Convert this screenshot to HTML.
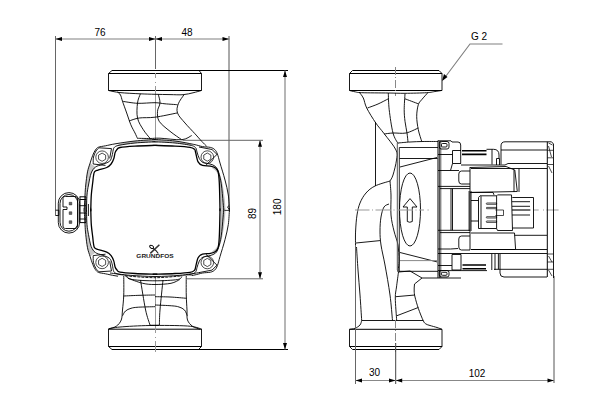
<!DOCTYPE html>
<html><head><meta charset="utf-8">
<style>
html,body{margin:0;padding:0;background:#fff;width:600px;height:400px;overflow:hidden}
svg{display:block}
.k{stroke:#000;stroke-width:1;fill:none}
.t{stroke:#000;stroke-width:0.9;fill:none}
.h{stroke:#000;stroke-width:0.7;fill:none}
.g{stroke:#555;stroke-width:1;fill:none}
.gl{stroke:#888;stroke-width:1;fill:none}
.gd{stroke:#808080;stroke-width:1.15;fill:none}
.a{fill:#000;stroke:none}
.cl{stroke:#888;stroke-width:1;fill:none;stroke-dasharray:8 2 1 2}
text{font-family:"Liberation Sans",sans-serif;font-size:10px;fill:#000}
</style></head><body>
<svg width="600" height="400" viewBox="0 0 600 400">
<g id="dimL">
  <path class="g" style="stroke:#666" d="M55.5 36V215.5M155.5 36V69"/><path class="g" d="M229 36V210"/>
  <path class="gd" d="M55.5 39H229.5"/>
  <path class="a" d="M55.5 39L62 37V41Z M155.5 39L149 37V41Z M155.5 39L162 37V41Z M229 39L222.5 37V41Z"/>
  <text x="100" y="36" text-anchor="middle">76</text>
  <text x="187" y="36" text-anchor="middle">48</text>
  <path class="k" d="M112 70.5H288 M112 349.5H288"/>
  <path class="gd" d="M285 70.5V349.5"/>
  <path class="a" d="M285 70.5L283 77H287Z M285 349.5L283 343H287Z"/>
  <path class="g" style="stroke:#666" d="M182.5 140.3H263 M187 278.8H263"/>
  <path class="gd" d="M260 140.3V278.8"/>
  <path class="a" d="M260 140.3L258 146.8H262Z M260 278.8L258 272.3H262Z"/>
  <text transform="translate(256.2 213.5) rotate(-90)" text-anchor="middle">89</text>
  <text transform="translate(281 206.9) rotate(-90)" text-anchor="middle">180</text>
</g>
<g id="leftview">
  <path class="k" d="M108.5 73.5H201.5 M108.5 90.5H201.5"/>
  <path class="t" d="M112 70.5L108.5 73.5V90.5 M199 70.5L201.5 73.5V90.5"/>
  <path class="g" d="M155.5 73V78 M155.5 82V83 M155.5 86V140" style="stroke:#999"/>
<path class="t" d="M108.50 90.50C110.42 90.85 114.75 92.05 120.00 92.60C125.25 93.15 134.17 93.52 140.00 93.80C145.83 94.08 150.00 94.17 155.00 94.30C160.00 94.43 165.33 94.53 170.00 94.60C174.67 94.67 179.17 95.00 183.00 94.70C186.83 94.40 189.92 93.50 193.00 92.80C196.08 92.10 200.08 90.88 201.50 90.50"/><path class="t" d="M117.50 92.00C118.00 92.50 119.67 93.45 120.50 95.00C121.33 96.55 121.47 98.30 122.50 101.30C123.53 104.30 125.32 109.10 126.70 113.00C128.08 116.90 129.42 121.37 130.80 124.70C132.18 128.03 133.88 130.70 135.00 133.00C136.12 135.30 137.08 137.58 137.50 138.50"/><path class="t" d="M122.50 101.30C125.00 101.63 132.08 103.07 137.50 103.30C142.92 103.53 150.42 102.62 155.00 102.70C159.58 102.78 161.25 103.47 165.00 103.80C168.75 104.13 175.42 104.55 177.50 104.70"/><path class="t" d="M129.00 121.00C130.70 120.50 134.87 118.63 139.20 118.00C143.53 117.37 148.70 118.03 155.00 117.20C161.30 116.37 173.33 113.70 177.00 113.00"/><path class="t" d="M137.50 138.30C139.58 138.33 146.25 138.52 150.00 138.50C153.75 138.48 154.72 138.00 160.00 138.20C165.28 138.40 176.42 140.15 181.70 139.70C186.98 139.25 190.03 136.20 191.70 135.50"/><path class="t" d="M140.40 93.80C139.92 95.33 137.98 98.97 137.50 103.00C137.02 107.03 136.53 113.55 137.50 118.00C138.47 122.45 141.22 126.32 143.30 129.70C145.38 133.08 148.88 136.87 150.00 138.30"/><path class="t" d="M158.30 94.30C158.58 95.75 160.13 100.17 160.00 103.00C159.87 105.83 157.63 108.25 157.50 111.30C157.37 114.35 157.12 117.97 159.20 121.30C161.28 124.63 166.25 128.23 170.00 131.30C173.75 134.37 179.75 138.30 181.70 139.70"/><path class="t" d="M184.00 94.70C183.05 96.22 179.38 100.75 178.30 103.80C177.22 106.85 176.38 109.80 177.50 113.00C178.62 116.20 182.08 119.53 185.00 123.00C187.92 126.47 192.22 130.75 195.00 133.80C197.78 136.85 199.75 139.22 201.70 141.30C203.65 143.38 205.87 145.47 206.70 146.30"/><path class="t" d="M108.5 329V346.5L112 349.5 M198.5 349.5L201.5 346.5V329"/>
  <path class="k" d="M108.5 346.5H201.5 M108.5 329.2H201.5"/>
  <path class="g" d="M155.5 277V333 M155.5 337V338 M155.5 341V352" style="stroke:#999"/>
<path class="t" d="M108.50 329.00C110.42 328.67 113.08 327.58 120.00 327.00C126.92 326.42 138.75 325.67 150.00 325.50C161.25 325.33 178.92 325.42 187.50 326.00C196.08 326.58 199.17 328.50 201.50 329.00"/><path class="t" d="M123.75 276.00C123.75 279.17 123.96 289.33 123.75 295.00C123.54 300.67 122.92 305.83 122.50 310.00C122.08 314.17 122.29 317.29 121.25 320.00C120.21 322.71 118.33 324.79 116.25 326.25C114.17 327.71 110.00 328.33 108.75 328.75"/><path class="t" d="M186.25 276.00C186.25 279.17 186.12 289.33 186.25 295.00C186.38 300.67 186.79 305.83 187.00 310.00C187.21 314.17 186.58 317.29 187.50 320.00C188.42 322.71 190.42 324.71 192.50 326.25C194.58 327.79 198.75 328.75 200.00 329.25"/><path class="t" d="M123.50 296.00C126.25 295.88 134.75 295.47 140.00 295.30C145.25 295.13 152.50 295.05 155.00 295.00"/><path class="t" d="M155.00 296.70C157.50 296.75 164.75 296.73 170.00 297.00C175.25 297.27 183.75 298.08 186.50 298.30"/><path class="t" d="M122.50 315.80C123.00 315.00 124.08 312.25 125.50 311.00C126.92 309.75 128.87 308.93 131.00 308.30C133.13 307.67 134.30 307.47 138.30 307.20C142.30 306.93 152.22 306.78 155.00 306.70"/><path class="t" d="M155.00 305.00C157.78 305.13 167.70 305.47 171.70 305.80C175.70 306.13 176.87 306.30 179.00 307.00C181.13 307.70 183.12 308.53 184.50 310.00C185.88 311.47 186.83 314.83 187.30 315.80"/><path class="t" d="M140.50 280.00C141.35 285.00 144.02 302.50 145.60 310.00C147.18 317.50 149.27 322.50 150.00 325.00"/><path class="t" d="M163.00 280.00C162.50 285.00 160.60 302.50 160.00 310.00C159.40 317.50 159.50 322.50 159.40 325.00"/><path class="k" d="M150 325.3H159.4"/>
</g>
<g id="bodyL"><g id="qTL"><path style="fill:#c8c8c8;stroke:none" d="M90.10 163.10C89.67 164.57 88.22 168.25 87.50 171.90C86.78 175.55 86.17 181.15 85.75 185.00C85.33 188.85 85.25 190.87 85.00 195.00C84.75 199.13 84.38 207.33 84.25 209.80L86.50 211.00C86.50 210.80 86.42 212.47 86.50 209.80C86.58 207.13 86.67 199.13 87.00 195.00C87.33 190.87 87.80 188.67 88.50 185.00C89.20 181.33 90.03 176.00 91.20 173.00C92.37 170.00 94.78 168.00 95.50 167.00Z"/><path style="fill:#b8b8b8;stroke:none" d="M118.00 144.50C120.83 143.92 128.83 141.83 135.00 141.00C141.17 140.17 151.67 139.75 155.00 139.50L155.00 141.80C151.67 142.00 141.00 142.42 135.00 143.00C129.00 143.58 121.67 144.92 119.00 145.30Z"/><path class="t" d="M157.00 139.50C156.67 139.50 158.67 139.25 155.00 139.50C151.33 139.75 141.50 140.30 135.00 141.00C128.50 141.70 120.92 142.90 116.00 143.70C111.08 144.50 108.42 145.22 105.50 145.80C102.58 146.38 100.18 146.50 98.50 147.20C96.82 147.90 96.36 148.66 95.40 150.00C94.44 151.34 93.63 153.07 92.75 155.25C91.87 157.43 90.97 160.32 90.10 163.10C89.22 165.88 88.22 168.25 87.50 171.90C86.78 175.55 86.17 181.15 85.75 185.00C85.33 188.85 85.25 190.87 85.00 195.00C84.75 199.13 84.38 207.13 84.25 209.80C84.12 212.47 84.25 210.80 84.25 211.00"/><path class="t" d="M157.00 141.80C156.67 141.80 158.67 141.60 155.00 141.80C151.33 142.00 141.00 142.42 135.00 143.00C129.00 143.58 122.42 144.60 119.00 145.30C115.58 146.00 115.47 146.42 114.50 147.20C113.53 147.98 113.62 148.53 113.20 150.00C112.78 151.47 112.62 154.12 112.00 156.00C111.38 157.88 111.17 159.87 109.50 161.30C107.83 162.73 104.33 163.65 102.00 164.60C99.67 165.55 97.30 165.60 95.50 167.00C93.70 168.40 92.37 170.00 91.20 173.00C90.03 176.00 89.20 181.33 88.50 185.00C87.80 188.67 87.33 190.87 87.00 195.00C86.67 199.13 86.58 207.13 86.50 209.80C86.42 212.47 86.50 210.80 86.50 211.00"/><path class="k" style="stroke-width:1.3" d="M157.00 145.40C156.67 145.40 158.67 145.28 155.00 145.40C151.33 145.52 140.83 145.75 135.00 146.10C129.17 146.45 123.03 146.88 120.00 147.50C116.97 148.12 117.62 148.95 116.80 149.80C115.98 150.65 115.61 151.11 115.10 152.60C114.59 154.09 114.42 156.85 113.75 158.75C113.08 160.65 112.27 162.54 111.10 164.00C109.93 165.46 108.93 166.48 106.75 167.50C104.57 168.52 100.04 169.37 98.00 170.10C95.96 170.83 95.27 170.83 94.50 171.90C93.73 172.97 93.68 174.82 93.40 176.50C93.12 178.18 93.15 178.92 92.80 182.00C92.45 185.08 91.63 190.37 91.30 195.00C90.97 199.63 90.88 207.13 90.80 209.80C90.72 212.47 90.80 210.80 90.80 211.00"/><path class="t" d="M93.20 164.00C93.25 162.83 93.03 159.17 93.50 157.00C93.97 154.83 95.08 152.53 96.00 151.00C96.92 149.47 98.50 148.33 99.00 147.80"/><path class="t" d="M99 147.8L111.5 148.6L109.7 158.4 M93.2 164L105.5 165.4"/><circle class="h" cx="102.1" cy="157.2" r="6.3"/><path class="h" d="M102.10 161.30 L98.55 159.25 L98.55 155.15 L102.10 153.10 L105.65 155.15 L105.65 159.25Z"/></g><g id="qTR"><path style="fill:#b8b8b8;stroke:none" d="M155.00 139.50C158.33 139.75 168.83 140.22 175.00 141.00C181.17 141.78 189.17 143.67 192.00 144.20L191.50 145.50C188.75 145.08 181.08 143.62 175.00 143.00C168.92 142.38 158.33 142.00 155.00 141.80Z"/><path style="fill:#c0c0c0;stroke:none" d="M214.00 166.00C214.83 167.00 217.58 169.04 219.00 172.00C220.42 174.96 221.53 179.08 222.50 183.75C223.47 188.42 224.30 195.66 224.80 200.00C225.30 204.34 225.38 208.17 225.50 209.80L220.90 209.80C220.85 208.17 220.78 204.47 220.60 200.00C220.42 195.53 220.35 187.50 219.80 183.00C219.25 178.50 218.60 175.50 217.30 173.00C216.00 170.50 212.88 168.83 212.00 168.00Z"/><path class="t" d="M153.00 139.50C153.33 139.50 151.33 139.25 155.00 139.50C158.67 139.75 168.54 140.18 175.00 141.00C181.46 141.82 189.17 143.47 193.75 144.40C198.33 145.33 199.72 146.10 202.50 146.60C205.28 147.10 208.36 146.90 210.40 147.40C212.44 147.90 213.58 148.50 214.75 149.60C215.92 150.70 216.53 151.77 217.40 154.00C218.28 156.23 218.73 158.67 220.00 163.00C221.27 167.33 223.62 174.67 225.00 180.00C226.38 185.33 227.57 190.03 228.30 195.00C229.03 199.97 229.22 207.13 229.40 209.80C229.58 212.47 229.40 210.80 229.40 211.00"/><path class="t" d="M153.00 141.80C153.33 141.80 151.33 141.60 155.00 141.80C158.67 142.00 168.92 142.38 175.00 143.00C181.08 143.62 188.03 144.67 191.50 145.50C194.97 146.33 194.88 146.92 195.80 148.00C196.72 149.08 196.42 150.25 197.00 152.00C197.58 153.75 198.30 156.75 199.30 158.50C200.30 160.25 201.22 161.58 203.00 162.50C204.78 163.42 207.92 163.33 210.00 164.00C212.08 164.67 214.08 165.17 215.50 166.50C216.92 167.83 217.54 169.12 218.50 172.00C219.46 174.88 220.48 178.67 221.25 183.75C222.02 188.83 222.69 198.16 223.10 202.50C223.51 206.84 223.60 208.38 223.70 209.80C223.80 211.22 223.70 210.80 223.70 211.00"/><path class="k" style="stroke-width:1.3" d="M153.00 145.40C153.33 145.40 151.33 145.28 155.00 145.40C158.67 145.52 169.17 145.78 175.00 146.10C180.83 146.42 186.75 146.77 190.00 147.30C193.25 147.83 193.58 148.52 194.50 149.30C195.42 150.08 194.90 149.90 195.50 152.00C196.10 154.10 196.93 159.67 198.10 161.90C199.27 164.13 200.45 164.68 202.50 165.40C204.55 166.12 208.22 165.77 210.40 166.20C212.58 166.63 214.29 166.97 215.60 168.00C216.91 169.03 217.63 169.90 218.25 172.40C218.87 174.90 219.04 178.40 219.30 183.00C219.56 187.60 219.68 195.53 219.80 200.00C219.92 204.47 219.97 207.97 220.00 209.80C220.03 211.63 220.00 210.80 220.00 211.00"/><path class="t" d="M199 147L212 149.5L217 154.4L206 165.2"/><circle class="h" cx="207.3" cy="157.1" r="6.3"/><path class="h" d="M207.30 161.20 L203.75 159.15 L203.75 155.05 L207.30 153.00 L210.85 155.05 L210.85 159.15Z"/></g><clipPath id="cb"><path d="M0 0H600V400H0Z M118 275.6V300H192V275.6Z" clip-rule="evenodd"/></clipPath><g clip-path="url(#cb)"><use href="#qTL" transform="matrix(1 0 0 -1 0 419.6)"/><use href="#qTR" transform="matrix(1 0 0 -1 0 419.6)"/></g><path class="k" style="stroke-width:0.8" d="M224.4 210.4H229.2 M228.6 205.5L227.6 207.5L229 209"/></g>
<g id="conn"><rect class="t" x="58.3" y="192.6" width="21.3" height="40.5" rx="10.6" ry="10.6"/><rect class="t" x="60" y="194.5" width="17.9" height="36.7" rx="9" ry="9"/><path class="t" d="M63 207V198.5C63 197 64 196.5 65.5 196.5H75C76.5 196.5 77.5 197.5 77.5 199V226C77.5 227.5 76.5 228.5 75 228.5H65.5C64 228.5 63 227.5 63 226V209.5H67V207Z"/><path style="fill:#666;stroke:#222;stroke-width:0.5" d="M69.2 202.3h2.6v2.6h-2.6z M69.2 211.8h2.6v2.6h-2.6z M69.2 220.8h2.6v2.6h-2.6z"/><path class="t" d="M55.5 210.2H58.8V215.5H55.5"/><path class="k" d="M79.6 196.8H86 M79.6 222.6H86 M79.6 199.5H86"/><path class="t" d="M79.6 205.7H86 M79.6 213H86 M79.6 219H86 M85.8 196.8V222.6 M80 196.8V222.6 M88.4 204V216"/></g><g id="logo"><path class="k" style="stroke-width:1.5;stroke:#333" d="M150.3 253.4L159.4 244.7"/><ellipse class="t" style="stroke-width:1" cx="151.6" cy="246.9" rx="2.1" ry="1.4" transform="rotate(30 151.6 246.9)"/><path class="k" style="stroke-width:1.2;stroke:#222" d="M152.8 248.3Q156 250 158.3 253.5"/><text x="155" y="258" text-anchor="middle" style="font-size:5px;font-weight:bold;fill:#222" textLength="37.4" lengthAdjust="spacingAndGlyphs">GRUNDFOS</text></g>
<path class="t" d="M110.00 273.00C113.38 273.38 122.80 274.72 130.30 275.30C137.80 275.88 146.77 276.50 155.00 276.50C163.23 276.50 172.20 275.97 179.70 275.30C187.20 274.63 196.62 272.97 200.00 272.50"/><path class="t" style="stroke-dasharray:3 1" d="M125.40 275.90C130.33 276.20 145.57 277.70 155.00 277.70C164.43 277.70 177.50 276.20 182.00 275.90"/><path class="t" d="M125.40 275.90C126.63 276.52 127.87 278.78 132.80 279.60C137.73 280.42 147.58 280.80 155.00 280.80C162.42 280.80 172.80 280.32 177.30 279.60C181.80 278.88 181.22 277.02 182.00 276.50"/><path class="t" d="M127.90 278.30C130.37 279.13 138.18 282.27 142.70 283.30C147.22 284.33 150.28 284.50 155.00 284.50C159.72 284.50 166.88 284.12 171.00 283.30C175.12 282.48 178.25 280.22 179.70 279.60"/><g id="rightview"><path class="k" d="M352.5 70.5H439 M349.5 73.5H442 M349.5 90.5H442"/><path class="t" d="M439 70.5L442 73.5V90.5 M349.5 90.5V73.5L352.5 70.5"/><path class="cl" d="M395.5 67V96"/><path class="t" d="M349.50 90.50C350.42 90.72 352.97 91.43 355.00 91.80C357.03 92.17 356.15 92.50 361.70 92.70C367.25 92.90 381.08 92.90 388.30 93.00C395.52 93.10 398.60 93.35 405.00 93.30C411.40 93.25 421.70 93.00 426.70 92.70C431.70 92.40 432.50 91.87 435.00 91.50C437.50 91.13 440.58 90.67 441.70 90.50"/><path class="t" d="M359.00 92.00C359.72 93.00 362.02 95.33 363.30 98.00C364.58 100.67 364.62 103.83 366.70 108.00C368.78 112.17 372.92 118.75 375.80 123.00C378.68 127.25 380.63 129.00 384.00 133.50C387.37 138.00 393.92 145.58 396.00 150.00C398.08 154.42 397.00 155.83 396.50 160.00C396.00 164.17 394.08 171.50 393.00 175.00C391.92 178.50 390.50 180.00 390.00 181.00"/><path class="t" d="M367.50 108.00C369.25 107.33 374.53 105.53 378.00 104.00C381.47 102.47 386.58 99.67 388.30 98.80"/><path class="t" d="M388.30 93.00C388.45 95.78 388.42 103.03 389.20 109.70C389.98 116.37 391.53 127.37 393.00 133.00C394.47 138.63 397.17 141.75 398.00 143.50"/><path class="t" d="M405.00 93.80C404.87 96.45 404.20 105.12 404.20 109.70C404.20 114.28 404.53 117.42 405.00 121.30C405.47 125.18 406.50 129.55 407.00 133.00C407.50 136.45 407.83 140.50 408.00 142.00"/><path class="t" d="M405.00 98.80C407.22 99.63 416.08 102.97 418.30 103.80"/><path class="t" d="M428.00 92.50C426.95 93.70 423.32 97.67 421.70 99.70C420.08 101.73 419.13 101.93 418.30 104.70C417.47 107.47 416.70 112.13 416.70 116.30C416.70 120.47 417.47 125.53 418.30 129.70C419.13 133.87 421.13 139.37 421.70 141.30"/><path class="t" d="M384.00 134.00C385.50 133.83 389.33 133.17 393.00 133.00C396.67 132.83 401.78 133.83 406.00 133.00C410.22 132.17 416.25 128.83 418.30 128.00"/><path class="t" d="M375.5 122V186"/><path class="t" d="M398.00 143.00C400.00 142.83 405.83 142.25 410.00 142.00C414.17 141.75 418.33 141.58 423.00 141.50C427.67 141.42 435.50 141.50 438.00 141.50"/><path class="t" d="M390.00 181.00C387.50 181.83 379.00 184.00 375.00 186.00C371.00 188.00 368.50 190.17 366.00 193.00C363.50 195.83 361.50 199.33 360.00 203.00C358.50 206.67 357.73 210.33 357.00 215.00C356.27 219.67 355.85 226.00 355.60 231.00C355.35 236.00 355.52 242.67 355.50 245.00"/><path class="t" d="M390.00 181.00C390.17 183.33 390.83 189.33 391.00 195.00C391.17 200.67 390.50 209.00 391.00 215.00C391.50 221.00 392.83 226.00 394.00 231.00C395.17 236.00 397.17 240.17 398.00 245.00C398.83 249.83 399.00 255.50 399.00 260.00C399.00 264.50 398.17 270.00 398.00 272.00"/><path class="t" d="M389.00 204.00C388.17 204.50 385.33 204.83 384.00 207.00C382.67 209.17 381.67 213.00 381.00 217.00C380.33 221.00 380.00 226.33 380.00 231.00C380.00 235.67 380.17 239.33 381.00 245.00C381.83 250.67 383.50 256.67 385.00 265.00C386.50 273.33 388.75 285.75 390.00 295.00C391.25 304.25 392.08 316.25 392.50 320.50"/><path class="t" d="M356 243L380 240.6"/><path class="t" d="M356.50 247.00C356.75 250.83 357.42 262.00 358.00 270.00C358.58 278.00 359.38 286.58 360.00 295.00C360.62 303.42 361.42 316.25 361.70 320.50"/><path class="g" d="M397.3 143V270L398.5 272"/><path class="k" style="stroke-width:0.85" d="M399.3 272V147.5H438"/><path class="t" d="M399.5 158.5H437.5 M400 167L437 157.5 M400 252.5L437 261.9 M399.5 271.3H438"/><path class="gl" d="M400 260.6H437"/><ellipse class="t" cx="410" cy="209.5" rx="10.5" ry="36.5"/><path class="t" d="M410 198.6L417 207H412.3V221.5Q409.7 223 407.3 221.5V207H403Z"/><path class="g" style="stroke:#999" d="M355 210H369.5 M372 210H373 M375.5 210H391 M393.5 210H394.5 M397 210H413 M415.5 210H416.5 M419 210H424 M427.5 210H428.7"/><path class="g" style="stroke:#999" d="M512 210H531 M533.5 210H538.7 M543 210H544 M546.5 210H558.6"/><path class="t" d="M398.5 272L410 271L422 278L414.5 284Q414 288 414.2 292"/><path class="t" d="M414.20 292.00C414.33 292.83 414.32 294.28 415.00 297.00C415.68 299.72 416.92 304.33 418.30 308.30C419.68 312.27 422.02 318.18 423.30 320.80C424.58 323.42 424.88 323.22 426.00 324.00C427.12 324.78 428.17 324.92 430.00 325.50C431.83 326.08 435.00 326.87 437.00 327.50C439.00 328.13 441.17 329.00 442.00 329.30"/><path class="t" d="M422 278H438"/><path class="t" d="M398.50 272.00C398.17 274.50 397.03 282.67 396.50 287.00C395.97 291.33 395.27 292.42 395.30 298.00C395.33 303.58 396.47 316.75 396.70 320.50"/><path class="t" d="M395.8 296.7L415 295 M396.7 315.8L418.3 307.5 M361.7 320.5H423.3"/><path class="t" d="M361.70 320.50C361.42 321.25 361.12 323.70 360.00 325.00C358.88 326.30 356.75 327.58 355.00 328.30C353.25 329.02 350.42 329.13 349.50 329.30"/><path class="k" d="M349.5 329.3H442 M349.5 346.5H442 M352.5 349.5H439"/><path class="t" d="M442 329.3V346.5L439 349.5 M352.5 349.5L349.5 346.5V329.3"/><path class="cl" d="M395.5 320V352"/></g><g id="motor"><rect x="439.5" y="141" width="2.2" height="137" fill="#b8b8b8"/><path class="k" d="M438 140.5V278"/><path class="t" d="M439.8 141V278"/><rect class="t" x="439.3" y="141.5" width="9.7" height="7.5" rx="2"/><rect class="t" x="441.5" y="143.5" width="5.5" height="3.5" rx="1"/><path class="t" d="M438 140.8H451L452 142H458Q460.7 142 460.7 145V163.5 M438 154.5H452.5 M452.5 150.5H461 M452.5 150.5V163.5H461 M452.5 163.5L450.5 170.5 M438 170.5H459"/><path class="t" d="M470 171H461.5Q458.8 171 458.8 174V181Q458.8 184 461.5 184H470"/><path class="t" d="M438 186.4H470 M440 188.6H470 M451 188.6V230.3 M452.5 188.6V230.3 M470 167V250"/><path class="k" style="stroke-width:1.6" d="M462 150.8H486.5 M462 154.4H486.5"/><path class="t" d="M486.5 149.3H493.5Q499 149.3 499 155V158.5 M492 149.3V164.5 M496.5 158.5V165 M496.5 158.5H499.5V165"/><path class="t" d="M501 164.5V146Q501 141.8 505 141.8H547 M501 150H547 M461 165H505L508 163.5H547 M471 168.5H547"/><path class="t" d="M470 167.5L506 166.5L514.8 170L517.3 191.5L470 192.5 M514 170V192 M519 168.5V192"/><path class="k" d="M547.3 141.8V277"/><path class="g" d="M554 276V383"/><path class="t" d="M547 141.8H551.5L553.5 144V278"/><path class="h" d="M548.5 143L552.5 145 M548.5 146L551.5 157 M548.5 166L552 173 M547.3 150.3H553.3 M547.3 157.8H553.3 M547.3 164.5H553.3 M547.3 254H553.3 M547.3 262H553.3 M547.3 269.3H553.3 M548.5 256L552 262 M548.5 270L552 276"/><path class="t" d="M478.5 197.5L480 195.8H496.6L497.5 194.9H511.5L512.5 230.5H497.5L496.6 228.5H478.5Z M481 196.2V228.2 M496.6 195.8V228.5 M469.1 191V231 M471 192.4H493L494 194.9 M471 200.5H478.5 M471 221H478.5"/><path class="t" d="M471 191V231"/><path class="h" d="M486.6 203H496.6V204.3H486.6Q486 203.6 486.6 203Z M486.6 207.4H496.6V208.7H486.6Q486 208 486.6 207.4Z M486.6 216.7H496.6V218H486.6Q486 217.3 486.6 216.7Z M486.6 221H496.6V222.4H486.6Q486 221.7 486.6 221Z M495.4 210H503.5V215.5H495.4"/><path class="t" d="M512.3 197.5H533.5V228H512.3 M512 206.3H530 M512 210H530 M512 215H530 M512 201.7H530"/><path class="t" d="M470 236H461.5Q458.8 236 458.8 239V247Q458.8 250 461.5 250H470"/><path class="t" d="M438 230.3H470 M440 232.6H470"/><path class="t" d="M471 233H514.5L515.6 249.4 M514.5 235.3H547 M491.8 253.7V270 M495 253.7V270"/><path class="k" style="stroke-width:1.1" d="M471 249.5H515"/><path class="t" d="M438 249H450.5L458 248.5 M515 249.5H547 M438 253.5H547 M438 265.5H452 M452 254.5V270H461V254.5H452 M438 278H461"/><path class="k" style="stroke-width:1.6" d="M462.5 265H486 M462.5 268.8H486"/><path class="t" d="M438 270.6H487"/><rect class="t" x="439.3" y="270.5" width="9.7" height="6.5" rx="2"/><rect class="t" x="441.5" y="272.3" width="5.5" height="3" rx="1"/><path class="t" d="M500 254V273Q500 277 504 277H547 M494 269.3H547 M498.4 254V269.3"/></g><g id="dimR">
  <path class="g" style="stroke:#666" d="M355.5 245V384"/><path class="g" style="stroke:#444" d="M395.7 343V384"/>
  <path class="gl" d="M355.5 380.5H554"/>
  <path class="a" d="M355.5 380.5L362 378.5V382.5Z M395.7 380.5L389 378.5V382.5Z M395.7 380.5L402.2 378.5V382.5Z M554 380.5L547.5 378.5V382.5Z"/>
  <text x="374.6" y="376" text-anchor="middle">30</text>
  <text x="477" y="377" text-anchor="middle">102</text>
  <text x="471" y="40.4">G 2</text>
  <path class="gd" d="M502.5 44H470L443 80"/>
  <path class="a" d="M442 81L444 74L447.5 77Z"/>
</g>
</svg>
</body></html>
